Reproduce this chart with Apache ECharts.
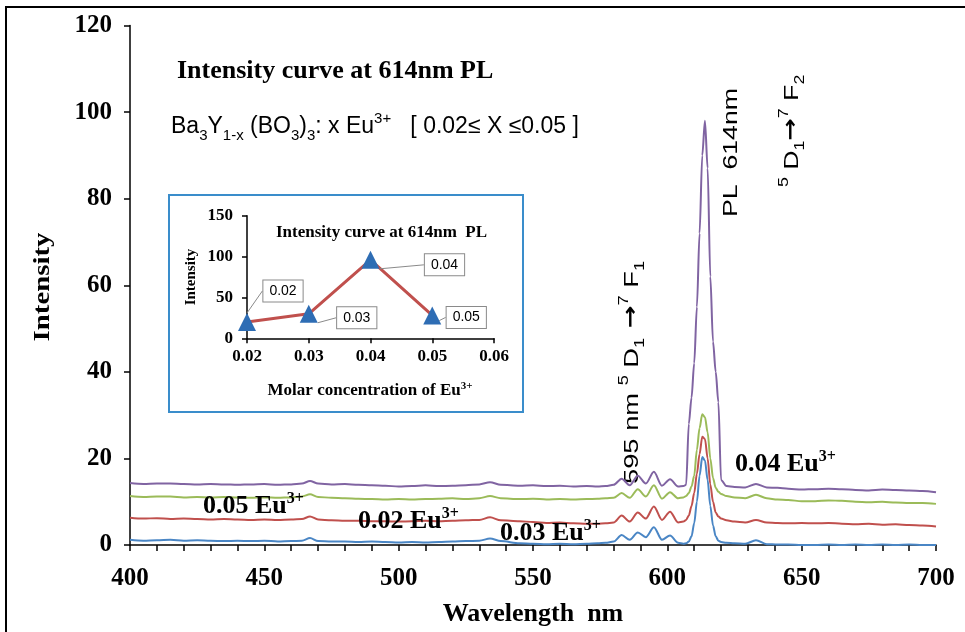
<!DOCTYPE html>
<html>
<head>
<meta charset="utf-8">
<script src="https://cdn.jsdelivr.net/npm/echarts@6/dist/echarts.min.js"></script>
<style>html,body{margin:0;padding:0;background:#fff;}#c{width:965px;height:632px;}</style>
</head>
<body>
<div id="c"></div>
<script>
// ---- main spectra (wavelength in nm, intensity a.u.) ----
const wavelength = [400,405,410,415,420,425,430,435,440,445,450,455,460,
  464,467,470,
  475,480,485,490,495,500,505,510,515,520,525,530,
  534,538,
  545,550,555,560,565,570,574,
  577,580,583,586,589,592,595,598,601,604,
  606,607,608,609,610,611,612,613,614,615,616,617,618,619,620,
  622,625,629,633,637,641,645,
  650,655,660,665,670,675,680,685,690,695,700];

const int004 = [14.3,14.1,14.2,14.2,14.1,14.0,14.1,14.0,13.9,14.0,14.1,13.9,14.0,
  14.2,14.8,14.2,
  14.0,14.1,13.9,13.8,13.7,13.5,13.6,13.8,13.6,13.7,13.8,14.0,
  14.5,13.9,
  13.7,13.8,13.6,13.7,13.5,13.6,13.5,
  13.6,13.9,15.3,13.8,16.0,14.2,16.9,13.7,15.2,13.5,
  13.6,13.9,28,34,42,55,72,90,98,87,62,47,40,33,15,
  13.6,13.4,13.3,14.1,13.3,13.2,13.0,
  12.8,12.9,13.0,12.9,12.7,12.6,12.8,12.7,12.6,12.5,12.2];

const int005 = [11.3,11.1,11.2,11.2,11.0,11.1,11.0,11.1,11.0,10.9,11.0,10.9,11.0,
  11.2,11.7,11.1,
  10.9,10.8,10.7,10.6,10.5,10.6,10.5,10.6,10.7,10.8,10.6,10.8,
  11.3,10.8,
  10.6,10.7,10.5,10.6,10.5,10.6,10.7,
  10.8,10.9,12.0,10.9,12.9,11.2,13.8,10.7,12.2,10.8,
  11.0,11.3,12.0,13.5,16,22,27,30.2,29.5,26,20,15.5,13.2,12.3,11.8,
  11.3,11.0,10.8,11.6,10.8,10.5,10.4,
  10.1,10.1,10.3,10.2,10.0,9.9,10.0,9.8,9.7,9.7,9.5];

const int002 = [6.3,6.1,6.2,6.0,6.1,6.0,5.9,6.0,5.9,5.8,5.9,5.8,5.9,
  6.0,6.6,5.9,
  5.7,5.6,5.6,5.5,5.5,5.4,5.5,5.6,5.5,5.6,5.7,5.8,
  6.4,5.7,
  5.5,5.3,5.1,5.2,5.0,4.9,4.9,
  5.0,5.2,6.8,5.4,7.5,6.1,8.9,5.8,7.7,5.2,
  5.4,5.8,6.8,9,12,16.5,21,25,24.5,20,14,10,7.5,6.6,6.1,
  5.7,5.4,5.2,5.8,5.2,5.1,5.0,
  5.1,5.0,5.1,4.9,4.8,4.9,4.7,4.8,4.6,4.5,4.3];

const int003 = [1.2,1.0,1.1,1.2,1.0,1.1,1.0,0.9,1.0,0.9,1.0,0.8,0.9,
  1.0,1.6,0.9,
  0.8,0.8,0.7,0.8,0.7,0.6,0.7,0.6,0.7,0.8,0.9,1.0,
  1.5,0.9,
  0.4,0.3,0.2,0.3,0.2,0.3,0.4,
  0.5,0.8,2.3,1.2,2.9,1.8,4.1,1.2,2.2,0.5,
  0.3,0.4,0.8,2,5,10,16,20.3,19.5,15,9,4.5,2,1,0.7,
  0.5,0.4,0.3,1.1,0.2,0.1,0.1,
  0,0,0.1,0,0.1,0,0.1,0,0.1,0,0];

// ---- inset ----
const concentration = [0.02, 0.03, 0.04, 0.05];
const peakIntensity = [20, 30, 96, 28];

const xTicks = [400, 450, 500, 550, 600, 650, 700];
const yTicks = [0, 20, 40, 60, 80, 100, 120];

function pairs(xs, ys){ return xs.map((x,i)=>[x, ys[i]]); }

const SERIF = '"Liberation Serif","Times New Roman",serif';
const SANS = '"Liberation Sans",Arial,sans-serif';

const chart = echarts.init(document.getElementById('c'), null, {renderer:'canvas'});

function lineSeries(name, ys, color){
  return {
    name, type:'line', xAxisIndex:0, yAxisIndex:0,
    data: pairs(wavelength, ys), showSymbol:false, symbol:'none',
    smooth:0.3, smoothMonotone:'x',
    lineStyle:{color, width:2}, itemStyle:{color}, z:3
  };
}

const insetOffsets = [[36,-31],[48,4],[74,5],[34,2]];

const sansRich = {
  n:{fontFamily:SANS, fontSize:21, lineHeight:30, fill:'#000', verticalAlign:'middle'},
  a:{fontFamily:'"DejaVu Sans",sans-serif', fontWeight:'bold', fontSize:21, lineHeight:30, fill:'#000', verticalAlign:'middle'},
  sb:{fontFamily:SANS, fontSize:14, lineHeight:30, fill:'#000', verticalAlign:'bottom'},
  sp:{fontFamily:SANS, fontSize:14, lineHeight:30, fill:'#000', verticalAlign:'top'}
};

const option = {
  backgroundColor:'#fff',
  animation:false,
  grid:[
    {left:130, right:29, top:25.5, bottom:86},
    {left:247, top:215.7, width:247, height:122.6}
  ],
  xAxis:[
    {type:'value', gridIndex:0, min:xTicks[0], max:xTicks[xTicks.length-1], interval:50,
     axisLine:{lineStyle:{color:'#000', width:1.5}},
     axisTick:{length:6, lineStyle:{color:'#000', width:1.5}},
     minorTick:{show:true, splitNumber:5, length:6, lineStyle:{color:'#000', width:1.5}},
     splitLine:{show:false},
     axisLabel:{color:'#000', fontFamily:SERIF, fontWeight:'bold', fontSize:25, margin:21},
     name:'Wavelength  nm', nameLocation:'middle', nameGap:56,
     nameTextStyle:{color:'#000', fontFamily:SERIF, fontWeight:'bold', fontSize:26}},
    {type:'value', gridIndex:1, min:0.02, max:0.06, interval:0.01,
     axisLine:{lineStyle:{color:'#000', width:1.5}},
     axisTick:{length:5, lineStyle:{color:'#000', width:1.5}},
     splitLine:{show:false},
     axisLabel:{color:'#000', fontFamily:SERIF, fontWeight:'bold', fontSize:17, margin:10,
       formatter:v=>v.toFixed(2)}}
  ],
  yAxis:[
    {type:'value', gridIndex:0, min:yTicks[0], max:yTicks[yTicks.length-1], interval:20,
     axisLine:{show:true, lineStyle:{color:'#000', width:1.5}},
     axisTick:{show:true, length:6, lineStyle:{color:'#000', width:1.5}},
     splitLine:{show:false},
     axisLabel:{color:'#000', fontFamily:SERIF, fontWeight:'bold', fontSize:25, margin:18}},
    {type:'value', gridIndex:1, min:0, max:150, interval:50,
     axisLine:{show:true, lineStyle:{color:'#000', width:1.5}},
     axisTick:{show:true, length:5, lineStyle:{color:'#000', width:1.5}},
     splitLine:{show:false},
     axisLabel:{color:'#000', fontFamily:SERIF, fontWeight:'bold', fontSize:17, margin:14},
     name:'Intensity', nameLocation:'middle', nameGap:48, nameRotate:90,
     nameTextStyle:{color:'#000', fontFamily:SERIF, fontWeight:'bold', fontSize:15}}
  ],
  series:[
    lineSeries('0.03', int003, '#4A86C5'),
    lineSeries('0.02', int002, '#C0504D'),
    lineSeries('0.05', int005, '#9BBB59'),
    lineSeries('0.04', int004, '#8064A2'),
    {
      name:'inset', type:'line', xAxisIndex:1, yAxisIndex:1,
      data: pairs(concentration, peakIntensity),
      symbol:'triangle', symbolSize:18, showSymbol:true,
      itemStyle:{color:'#2E6DB4'},
      lineStyle:{color:'#C0504D', width:3}, z:5,
      label:{show:true, position:'inside', formatter:p=>p.value[0].toFixed(2),
        color:'#000', fontFamily:SANS, fontSize:14,
        backgroundColor:'#fff', borderColor:'#8a8a8a', borderWidth:1, padding:[4,6,3,6]},
      labelLine:{show:true, lineStyle:{color:'#8a8a8a', width:1}},
      labelLayout:function(p){ const o = insetOffsets[p.dataIndex]; return {dx:o[0], dy:o[1]}; }
    }
  ],
  graphic:[
    {type:'line', shape:{x1:5, y1:7, x2:965, y2:7}, style:{stroke:'#000', lineWidth:2}},
    {type:'line', shape:{x1:6, y1:6, x2:6, y2:632}, style:{stroke:'#000', lineWidth:2}},
    {type:'rect', shape:{x:169, y:195, width:354, height:217}, style:{fill:'none', stroke:'#3A8DCB', lineWidth:2}, z:1},
    // main y-axis name
    {type:'text', x:43, y:287, rotation:Math.PI/2, scaleX:1.2, style:{text:'Intensity', fill:'#000',
      font:'bold 24px '+SERIF, textAlign:'center', textVerticalAlign:'middle'}},
    {type:'text', x:177, y:71, style:{text:'Intensity curve at 614nm PL', fill:'#000',
      font:'bold 26px '+SERIF, textAlign:'left', textVerticalAlign:'middle'}},
    {type:'text', x:171, y:127, style:{
      text:'{n|Ba}{sb|3}{n|Y}{sb|1-x}{n| (BO}{sb|3}{n|)}{sb|3}{n|: x Eu}{sp|3+}{n|   [ 0.02≤ X ≤0.05 ]}',
      textAlign:'left', textVerticalAlign:'middle', fill:'#000',
      rich:{
        n:{fontFamily:SANS, fontSize:23, lineHeight:32, fill:'#000', verticalAlign:'middle'},
        sb:{fontFamily:SANS, fontSize:15, lineHeight:32, fill:'#000', verticalAlign:'bottom'},
        sp:{fontFamily:SANS, fontSize:15, lineHeight:32, fill:'#000', verticalAlign:'top'}
      }}},
    // curve labels
    ...[['0.05', 203, 506], ['0.02', 358, 521], ['0.03', 500, 533], ['0.04', 735, 464]].map(t=>({
      type:'text', x:t[1], y:t[2], z:10, style:{
        text:'{n|'+t[0]+' Eu}{sp|3+}', textAlign:'left', textVerticalAlign:'middle',
        rich:{
          n:{fontFamily:SERIF, fontWeight:'bold', fontSize:26, lineHeight:30, fill:'#000', verticalAlign:'middle'},
          sp:{fontFamily:SERIF, fontWeight:'bold', fontSize:16, lineHeight:30, fill:'#000', verticalAlign:'top'}
        }}})),
    // rotated annotations
    {type:'text', x:632, y:484, rotation:Math.PI/2, scaleX:1.3, style:{
      text:'{n|595 nm }{sp|5}{n| D}{sb|1}{a| →}{sp|7}{n| F}{sb|1}',
      textAlign:'left', textVerticalAlign:'middle', rich:sansRich}},
    {type:'text', x:731, y:217, rotation:Math.PI/2, scaleX:1.27, style:{
      text:'PL  614nm', textAlign:'left', textVerticalAlign:'middle',
      font:'21px '+SANS, fill:'#000'}},
    {type:'text', x:792, y:187, rotation:Math.PI/2, scaleX:1.27, style:{
      text:'{sp|5}{n| D}{sb|1}{a|→}{sp|7}{n| F}{sb|2}',
      textAlign:'left', textVerticalAlign:'middle', rich:sansRich}},
    // inset title & x-axis name
    {type:'text', x:276, y:233, z:10, style:{text:'Intensity curve at 614nm  PL', fill:'#000',
      font:'bold 17px '+SERIF, textAlign:'left', textVerticalAlign:'middle'}},
    {type:'text', x:370, y:391, z:10, style:{
      text:'{n|Molar concentration of Eu}{sp|3+}', textAlign:'center', textVerticalAlign:'middle',
      rich:{
        n:{fontFamily:SERIF, fontWeight:'bold', fontSize:17, lineHeight:20, fill:'#000', verticalAlign:'middle'},
        sp:{fontFamily:SERIF, fontWeight:'bold', fontSize:11, lineHeight:20, fill:'#000', verticalAlign:'top'}
      }}}
  ]
};
chart.setOption(option);
</script>
</body>
</html>
